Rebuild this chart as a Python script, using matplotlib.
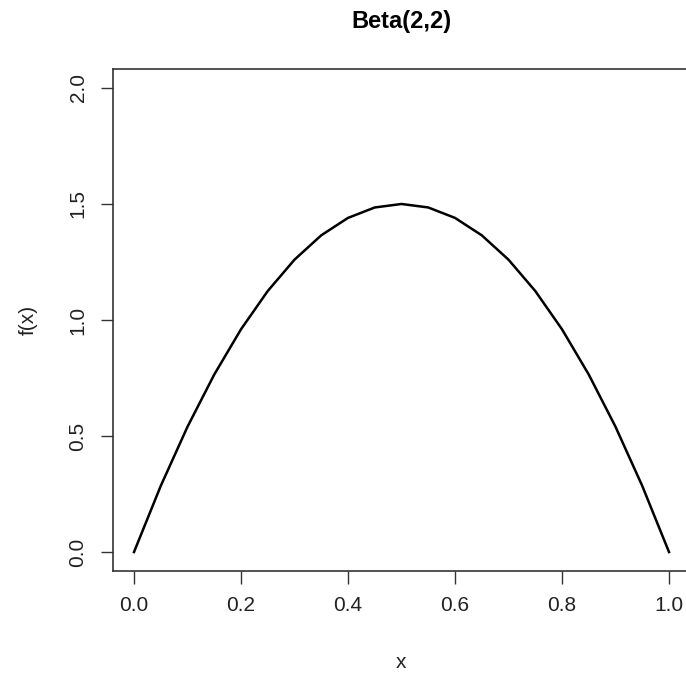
import matplotlib.pyplot as plt

# values
xs = [0.00, 0.05, 0.10, 0.15, 0.20, 0.25, 0.30, 0.35, 0.40, 0.45, 0.50,
      0.55, 0.60, 0.65, 0.70, 0.75, 0.80, 0.85, 0.90, 0.95, 1.00]
fx = [0.000, 0.285, 0.540, 0.765, 0.960, 1.125, 1.260, 1.365, 1.440, 1.485, 1.500,
      1.485, 1.440, 1.365, 1.260, 1.125, 0.960, 0.765, 0.540, 0.285, 0.000]

xticks = [0.0, 0.2, 0.4, 0.6, 0.8, 1.0]
yticks = [0.0, 0.5, 1.0, 1.5, 2.0]

plt.rcParams["font.family"] = ["Liberation Sans", "DejaVu Sans"]

W, H = 686, 679
fig = plt.figure(figsize=(W / 100, H / 100), dpi=100)
left, right, top, bottom = 112.6, 690.4, 69.4, 570.6
ax = fig.add_axes([left / W, 1 - bottom / H, (right - left) / W, (bottom - top) / H])

ax.plot(xs, fx, color="black", lw=1.8, solid_joinstyle="round")
ax.set_xlim(-0.04, 1.04)
ax.set_ylim(-0.08, 2.08)

ax.set_xticks(xticks)
ax.set_xticklabels([f"{t:.1f}" for t in xticks])
ax.set_yticks(yticks)
ax.set_yticklabels([f"{t:.1f}" for t in yticks], rotation=90, va="center")
ax.tick_params(length=9, width=1, labelsize=15, color="#333333",
               labelcolor="#222222", pad=9)

for s in ax.spines.values():
    s.set_linewidth(1.2)
    s.set_color("#333333")

ax.set_xlabel("x", fontsize=15, labelpad=28, color="#222222")
ax.set_ylabel("f(x)", fontsize=15, labelpad=22, color="#222222")
ax.set_title("Beta(2,2)", fontsize=17, fontweight="bold", pad=30)

plt.savefig("out.png", dpi=100)
